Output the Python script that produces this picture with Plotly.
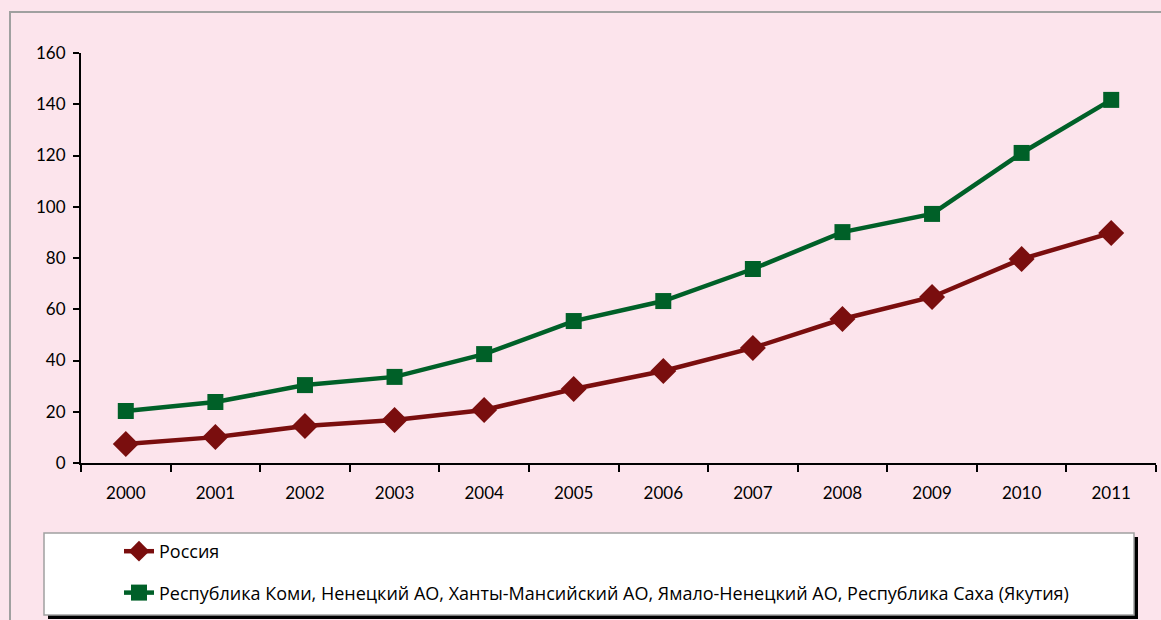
import plotly.graph_objects as go

years = ["2000", "2001", "2002", "2003", "2004", "2005", "2006", "2007", "2008", "2009", "2010", "2011"]
russia = [7.4, 10.1, 14.4, 16.8, 20.7, 28.9, 35.9, 44.9, 56.2, 64.8, 79.6, 89.8]
regions = [20.3, 23.8, 30.4, 33.6, 42.5, 55.4, 63.2, 75.7, 90.1, 97.2, 121.0, 141.7]
name_russia = "Россия"
name_regions = "Республика Коми, Ненецкий АО, Ханты-Мансийский АО, Ямало-Ненецкий АО, Республика Саха (Якутия)"

W, H = 1161, 620
L, R, T, B = 81, 5, 53, 157
pw = W - L - R
ph = H - T - B

def px_x(p):
    return (p - L) / pw

def px_y(p):
    return (H - B - p) / ph

red = "rgb(122,14,14)"
green = "rgb(0,96,40)"
bg = "rgb(252,228,236)"

fig = go.Figure()
fig.add_trace(go.Scatter(x=years, y=russia, name=name_russia, mode="lines+markers",
                         line=dict(color=red, width=4.5),
                         marker=dict(symbol="diamond", size=20, color=red),
                         legendgroup="a"))
fig.add_trace(go.Scatter(x=years, y=regions, name=name_regions, mode="lines+markers",
                         line=dict(color=green, width=4.5),
                         marker=dict(symbol="square", size=16, color=green),
                         legendgroup="b"))

shapes = [
    dict(type="rect", xref="paper", yref="paper", x0=px_x(10), x1=px_x(1180), y0=px_y(640), y1=px_y(12),
         line=dict(color="rgb(160,160,160)", width=2), fillcolor="rgba(0,0,0,0)", layer="below"),
    dict(type="rect", xref="paper", yref="paper", x0=px_x(48), x1=px_x(1138), y0=px_y(619), y1=px_y(537),
         line=dict(width=0), fillcolor="black", layer="below"),
    dict(type="rect", xref="paper", yref="paper", x0=px_x(44), x1=px_x(1134), y0=px_y(615), y1=px_y(533),
         line=dict(color="rgb(160,160,160)", width=1.5), fillcolor="white", layer="below"),
]

fig.update_layout(
    width=W, height=H,
    margin=dict(l=L, r=R, t=T, b=B, autoexpand=False),
    paper_bgcolor=bg, plot_bgcolor=bg,
    font=dict(family="Lato, Open Sans, sans-serif", size=17, color="black"),
    shapes=shapes,
    showlegend=True,
    legend=dict(x=px_x(119), y=px_y(533), xanchor="left", yanchor="top",
                bgcolor="rgba(0,0,0,0)", borderwidth=0,
                font=dict(size=18, family="Open Sans, Lato, sans-serif"),
                tracegroupgap=15, traceorder="grouped"),
    xaxis=dict(type="category", range=[-0.5, 11.5], showgrid=False, zeroline=False,
               showline=True, linecolor="black", linewidth=2,
               ticks="outside", ticklen=7, tickwidth=2, tickcolor="black", tickson="boundaries",
               tickfont=dict(size=17), ticklabelstandoff=14),
    yaxis=dict(range=[0, 160], dtick=20, showgrid=False, zeroline=False,
               showline=True, linecolor="black", linewidth=2,
               ticks="outside", ticklen=6, tickwidth=2, tickcolor="black",
               tickfont=dict(size=17), ticklabelstandoff=4),
)

fig.write_html("out.html", config={"displayModeBar": False},
               post_script="document.body.style.margin='0';document.body.style.overflow='hidden';")
